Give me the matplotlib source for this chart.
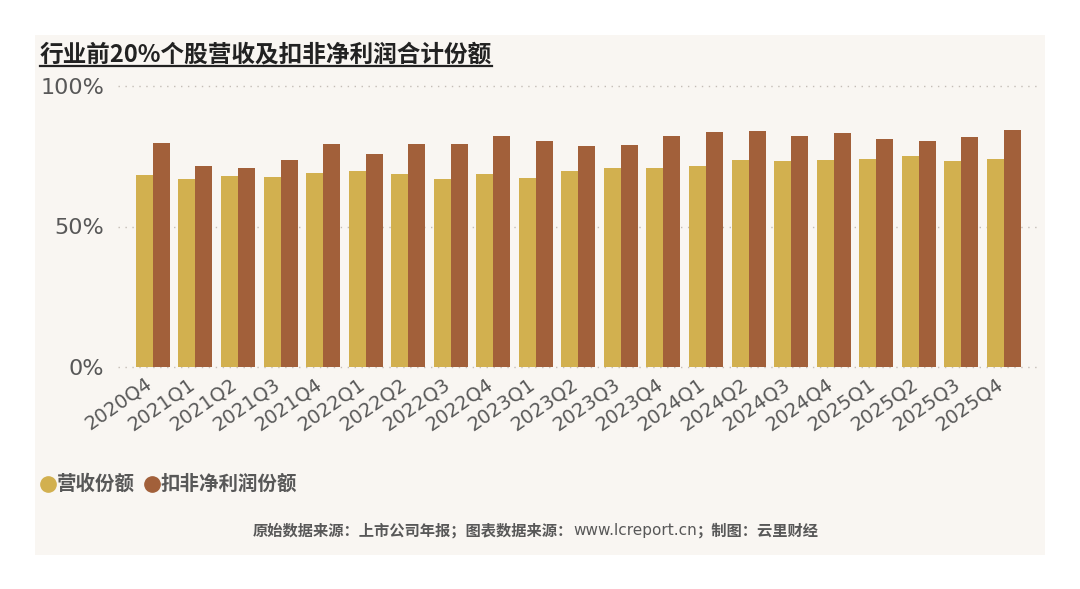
import matplotlib
matplotlib.use("Agg")
import matplotlib.pyplot as plt
import matplotlib.transforms as mtransforms
import numpy as np
from matplotlib.patches import Rectangle
from matplotlib.lines import Line2D

plt.rcParams['font.family'] = ['DejaVu Sans', 'Noto Sans CJK SC']

quarters = ["2020Q4", "2021Q1", "2021Q2", "2021Q3", "2021Q4", "2022Q1", "2022Q2", "2022Q3",
            "2022Q4", "2023Q1", "2023Q2", "2023Q3", "2023Q4", "2024Q1", "2024Q2", "2024Q3",
            "2024Q4", "2025Q1", "2025Q2", "2025Q3", "2025Q4"]
revenue_share = [68.3, 67.0, 68.1, 67.7, 69.0, 69.8, 68.7, 67.0, 68.6, 67.3, 69.8, 70.9,
                 70.7, 71.5, 73.7, 73.4, 73.7, 74.0, 75.0, 73.3, 74.0]
profit_share = [79.8, 71.4, 70.7, 73.7, 79.4, 75.9, 79.4, 79.4, 82.1, 80.3, 78.6, 79.0,
                82.3, 83.7, 84.0, 82.1, 83.3, 81.2, 80.3, 81.9, 84.2]
series_names = ["营收份额", "扣非净利润份额"]
yticks = [0, 50, 100]
ytick_labels = ["0%", "50%", "100%"]

title = "行业前20%个股营收及扣非净利润合计份额"
footer_bold1 = "原始数据来源：上市公司年报；图表数据来源："
footer_url = "www.lcreport.cn"
footer_bold2 = "；制图：云里财经"

gold = "#D2B04F"
brown = "#A2603A"
bg = "#F9F6F2"
grey = "#585858"

W, H = 1080, 589
fig = plt.figure(figsize=(W / 100, H / 100), dpi=100)
fig.patch.set_facecolor("white")
fig.patches.append(Rectangle((35 / W, 1 - 555 / H), (1045 - 35) / W, (555 - 35) / H,
                             transform=fig.transFigure, facecolor=bg, edgecolor="none", zorder=-5))

ax = fig.add_axes([118 / W, 1 - 367 / H, (1040 - 118) / W, (367 - 86) / H])
ax.set_zorder(2)
ax.set_facecolor("none")
x = np.arange(len(quarters))
bw = 0.40
ax.bar(x - bw / 2, revenue_share, width=bw, color=gold, zorder=3)
ax.bar(x + bw / 2, profit_share, width=bw, color=brown, zorder=3)
ax.set_xlim(-0.82, 20.85)
ax.set_ylim(0, 100)
ax.set_yticks(yticks)
ax.set_yticklabels(ytick_labels, family="DejaVu Sans")
for yv in yticks:
    ax.axhline(yv, color="#C4BDB6", linestyle=(0, (1, 4)), linewidth=1.0, zorder=1, clip_on=False)
for s in ax.spines.values():
    s.set_visible(False)
ax.tick_params(axis="y", length=0, pad=10, labelsize=16, labelcolor=grey)
ax.set_xticks(x)
ax.set_xticklabels(quarters, rotation=35, ha="right", rotation_mode="anchor",
                   fontsize=14, color=grey, family="DejaVu Sans")
ax.tick_params(axis="x", length=0, pad=5)
shift = mtransforms.ScaledTranslation(-8 / 100, 0, fig.dpi_scale_trans)
for lab in ax.get_xticklabels():
    lab.set_transform(lab.get_transform() + shift)

cjk = ['Noto Sans CJK SC', 'DejaVu Sans']

# title with underline
t = fig.text(40 / W, 1 - 54 / H, title, fontsize=17, fontweight="bold", color="#222222",
             va="center", ha="left", family=cjk)
fig.canvas.draw()
bb = t.get_window_extent()
fig.add_artist(Line2D([bb.x0 / W, bb.x1 / W], [(H - 66) / H, (H - 66) / H],
                      transform=fig.transFigure, color="#222222", linewidth=1.6))

# legend
fig.add_artist(Line2D([48 / W], [1 - 484 / H], marker="o", markersize=11, color=gold,
                      linestyle="none", transform=fig.transFigure))
fig.text(57 / W, 1 - 484 / H, series_names[0], fontsize=14, fontweight="bold", color=grey,
         va="center", ha="left", family=cjk)
fig.add_artist(Line2D([152 / W], [1 - 484 / H], marker="o", markersize=11, color=brown,
                      linestyle="none", transform=fig.transFigure))
fig.text(161 / W, 1 - 484 / H, series_names[1], fontsize=14, fontweight="bold", color=grey,
         va="center", ha="left", family=cjk)

# footer
fy = 1 - 531 / H
f1 = fig.text(253 / W, fy, footer_bold1, fontsize=11, fontweight="bold", color=grey,
              va="center", ha="left", family=cjk)
fig.canvas.draw()
b1 = f1.get_window_extent()
f2 = fig.text(b1.x1 / W, fy, footer_url, fontsize=11, color=grey,
              va="center", ha="left", family="DejaVu Sans")
fig.canvas.draw()
b2 = f2.get_window_extent()
fig.text(b2.x1 / W, fy, footer_bold2, fontsize=11, fontweight="bold", color=grey,
         va="center", ha="left", family=cjk)

fig.savefig("out.png", dpi=100, facecolor="white")
